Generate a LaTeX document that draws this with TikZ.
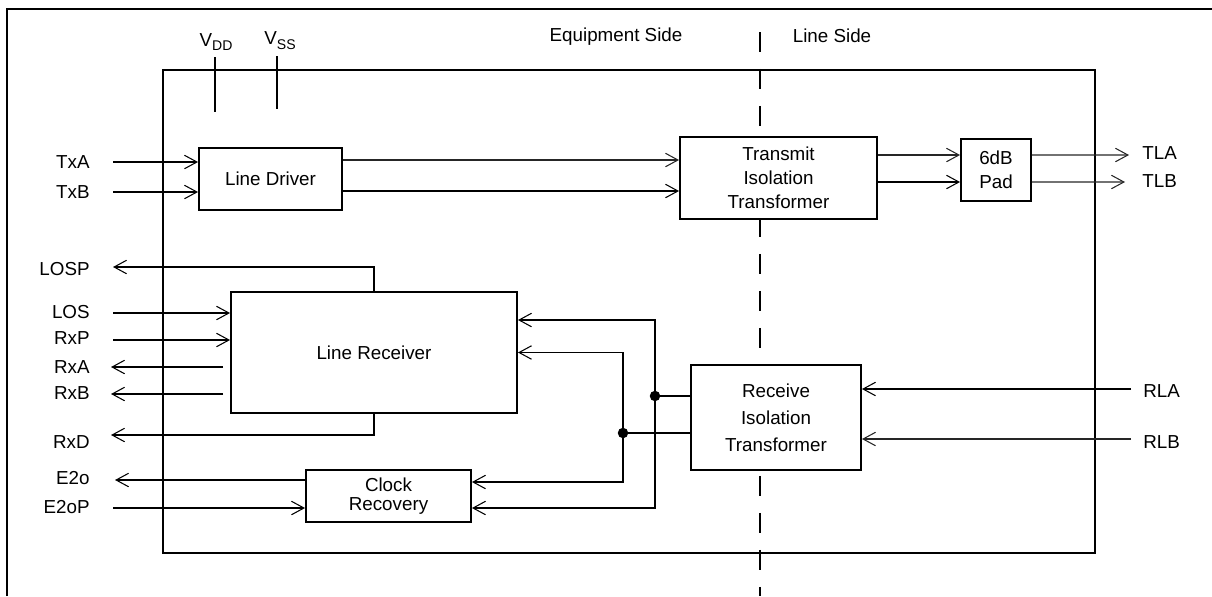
\documentclass[tikz,border=0pt]{standalone}
\usepackage{fontspec}
\setmainfont{Liberation Sans}
\usetikzlibrary{arrows.meta}
\newcommand{\blockfont}{\fontsize{10.7}{13.6}\selectfont}
\newcommand{\supply}[1]{V\raisebox{-2.8pt}{\fontsize{8}{9}\selectfont #1}}
\tikzset{
  blockbox/.style={draw, fill=white, line width=1.1pt, inner sep=0pt,
    align=center, font=\blockfont},
  pinlabel/.style={inner sep=0pt, font=\blockfont},
  wire/.style={line width=1.1pt},
  thinwire/.style={line width=0.6pt, draw=black!85},
  tip/.style={-{Straight Barb[length=2.5mm, width=2.7mm, line width=0.6pt]}},
  sig/.style={wire, tip},
  thinsig/.style={thinwire, tip},
  tapdot/.style={circle, fill, inner sep=0pt, minimum size=2.1mm},
}

\begin{document}
\begin{tikzpicture}[x=0.02cm, y=-0.02cm]
  \useasboundingbox (0,0) rectangle (1212,596);
  % frame and chip outline
  \draw[wire] (7,596) -- (7,9) -- (1212,9);
  \draw[wire] (163,70) rectangle (1095,553);
  \draw[wire, dash pattern=on 0.4cm off 0.34cm] (760,32) -- (760,596);
  \node[pinlabel] (eqside) at (616,37) {Equipment Side};
  \node[pinlabel] (lnside) at (832,36) {Line Side};

  % supply pins
  \node[pinlabel] (vdd) at (216,42) {\supply{DD}};
  \node[pinlabel] (vss) at (280,41) {\supply{SS}};
  \coordinate (vddTop) at (215,57);  \coordinate (vddBot) at (215,112);
  \coordinate (vssTop) at (277,56);  \coordinate (vssBot) at (277,109);
  \draw[wire] (vddTop) -- (vddBot);
  \draw[wire] (vssTop) -- (vssBot);

  % blocks
  \node[blockbox, minimum width=2.86cm, minimum height=1.24cm] (LD) at (270.5,179) {Line Driver};
  \node[blockbox, minimum width=3.94cm, minimum height=1.64cm] (TIT) at (778.5,178) {Transmit\\Isolation\\Transformer};
  \node[blockbox, minimum width=1.4cm, minimum height=1.24cm] (pad) at (996,170) {6dB\\Pad};
  \node[blockbox, minimum width=5.72cm, minimum height=2.42cm] (LR) at (374,352.5) {Line Receiver};
  \node[blockbox, minimum width=3.4cm, minimum height=2.1cm,
    font=\fontsize{10.7}{15.3}\selectfont] (RIT) at (776,417.5) {Receive\\Isolation\\Transformer};
  \node[blockbox, minimum width=3.3cm, minimum height=1.04cm,
    font=\fontsize{10.7}{11}\selectfont] (CR) at (388.5,496) {Clock\\Recovery};

  % equipment side pins
  \coordinate (pTxA) at (113,162);  \node[pinlabel, anchor=east] (lTxA) at (90,162) {TxA};
  \coordinate (pTxB) at (113,192);  \node[pinlabel, anchor=east] (lTxB) at (90,192) {TxB};
  \coordinate (pLOSP) at (113,267); \node[pinlabel, anchor=east] (lLOSP) at (90,269) {LOSP};
  \coordinate (pLOS) at (113,313);  \node[pinlabel, anchor=east] (lLOS) at (90,312) {LOS};
  \coordinate (pRxP) at (113,340);  \node[pinlabel, anchor=east] (lRxP) at (90,338) {RxP};
  \coordinate (pRxA) at (111,367);  \node[pinlabel, anchor=east] (lRxA) at (90,367) {RxA};
  \coordinate (pRxB) at (111,394);  \node[pinlabel, anchor=east] (lRxB) at (90,393) {RxB};
  \coordinate (pRxD) at (111,435);  \node[pinlabel, anchor=east] (lRxD) at (90,442) {RxD};
  \coordinate (pE2o) at (115,480);  \node[pinlabel, anchor=east] (lE2o) at (90,478) {E2o};
  \coordinate (pE2oP) at (113,508); \node[pinlabel, anchor=east] (lE2oP) at (90,507) {E2oP};

  % line side pins
  \coordinate (pTLA) at (1129,155); \node[pinlabel, anchor=west] (lTLA) at (1142,153) {TLA};
  \coordinate (pTLB) at (1125,182); \node[pinlabel, anchor=west] (lTLB) at (1142,181) {TLB};
  \coordinate (pRLA) at (1131,389); \node[pinlabel, anchor=west] (lRLA) at (1143,391) {RLA};
  \coordinate (pRLB) at (1131,439); \node[pinlabel, anchor=west] (lRLB) at (1143,442) {RLB};

  % transmit path
  \draw[sig] (pTxA) -- (pTxA -| LD.west);
  \draw[sig] (pTxB) -- (pTxB -| LD.west);
  \draw[thinsig] ([yshift=0.38cm]LD.east) -- ([yshift=0.38cm]LD.east -| TIT.west);
  \draw[sig] ([yshift=-0.24cm]LD.east) -- ([yshift=-0.24cm]LD.east -| TIT.west);
  \draw[thinsig] ([yshift=0.46cm]TIT.east) -- ([yshift=0.46cm]TIT.east -| pad.west);
  \draw[sig] ([yshift=-0.08cm]TIT.east) -- ([yshift=-0.08cm]TIT.east -| pad.west);
  \draw[thinsig] ([yshift=0.3cm]pad.east) -- (pTLA);
  \draw[thinsig] ([yshift=-0.24cm]pad.east) -- (pTLB);

  % receiver outputs and inputs
  \draw[sig] (LR.north) |- (pLOSP);
  \draw[sig] (LR.south) |- (pRxD);
  \draw[sig] (pLOS) -- (pLOS -| LR.west);
  \draw[sig] (pRxP) -- (pRxP -| LR.west);
  \draw[sig] ([xshift=-4pt]pRxA -| LR.west) -- (pRxA);
  \draw[sig] ([xshift=-4pt]pRxB -| LR.west) -- (pRxB);
  \draw[sig] (pE2o -| CR.west) -- (pE2o);
  \draw[sig] (pE2oP) -- (pE2oP -| CR.west);

  % receive path
  \draw[sig] (pRLA) -- (pRLA -| RIT.east);
  \draw[thinsig] (pRLB) -- (pRLB -| RIT.east);
  \node[tapdot] (tapA) at (655,396) {};
  \node[tapdot] (tapB) at (623,433) {};
  \draw[wire] (RIT.west |- tapA) -- (tapA.center);
  \draw[wire] (RIT.west |- tapB) -- (tapB.center);
  \draw[sig] (tapA.center) |- ([yshift=0.65cm]LR.east);
  \draw[sig] (tapA.center) |- ([yshift=-0.24cm]CR.east);
  \draw[sig] (tapB.center) |- (LR.east);
  \draw[sig] (tapB.center) |- ([yshift=0.28cm]CR.east);
\end{tikzpicture}
\end{document}
